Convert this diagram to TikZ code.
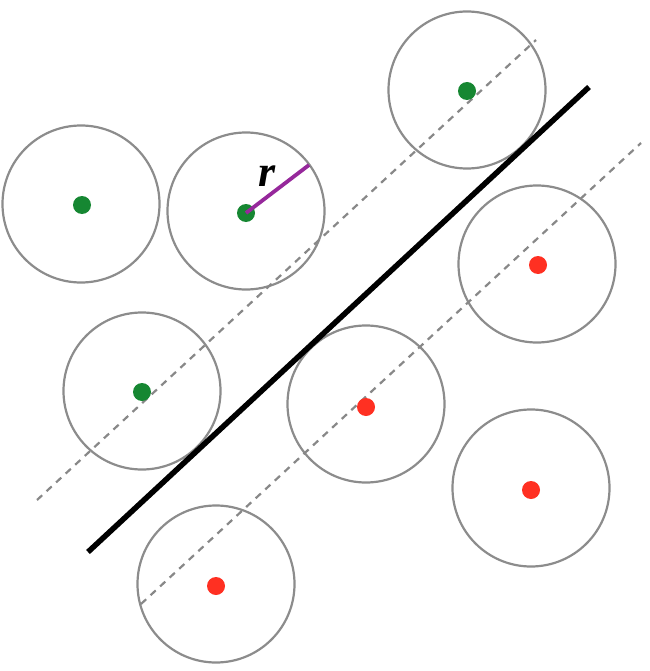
\documentclass[tikz,border=0pt]{standalone}
\usepackage{fontspec}
\setmainfont{Liberation Serif}
\definecolor{ptgreen}{RGB}{22,135,50}
\definecolor{ptred}{RGB}{255,48,34}
\definecolor{ringgray}{RGB}{140,140,140}
\definecolor{dashgray}{RGB}{136,136,136}
\definecolor{radpurple}{RGB}{150,40,155}
\tikzset{
  ring/.style={circle,draw=ringgray,line width=2.2pt,minimum size=157pt,inner sep=0pt},
  gdot/.style={circle,fill=ptgreen,minimum size=18pt,inner sep=0pt},
  rdot/.style={circle,fill=ptred,minimum size=18pt,inner sep=0pt},
  margin/.style={dashgray,line width=2.2pt,dash pattern=on 7pt off 6pt},
  boundary/.style={black,line width=5.5pt},
  radius line/.style={radpurple,line width=3.8pt}
}
\begin{document}
\begin{tikzpicture}[x=1pt,y=-1pt]
\useasboundingbox (0,0) rectangle (649,671);
% rings
\node[ring] (c1) at (81,204) {};
\node[ring] (c2) at (246,211) {};
\node[ring] (c3) at (467,90) {};
\node[ring] (c4) at (142,391) {};
\node[ring] (c5) at (537,264) {};
\node[ring] (c6) at (366,404) {};
\node[ring] (c7) at (531,488) {};
\node[ring] (c8) at (216,584) {};
% lines
\coordinate (u1) at (37,500);
\coordinate (u2) at (536,40);
\coordinate (l1) at (141,604);
\coordinate (l2) at (641,143);
\coordinate (b1) at (88,552);
\coordinate (b2) at (589,87);
\draw[margin] (u1) -- (u2);
\draw[margin] (l1) -- (l2);
\draw[boundary] (b1) -- (b2);
% dots
\node[gdot] (d1) at (82,205) {};
\node[gdot] (d2) at (246,213) {};
\node[gdot] (d3) at (467,91) {};
\node[gdot] (d4) at (142,392) {};
\node[rdot] (d5) at (538,265) {};
\node[rdot] (d6) at (366,407) {};
\node[rdot] (d7) at (531,490) {};
\node[rdot] (d8) at (216,586) {};
% radius
\coordinate (rend) at (309,165);
\draw[radius line] (d2.center) -- (rend);
\node[font=\fontsize{44}{46}\selectfont\bfseries\itshape] (rlab) at (267,176) {r};
\end{tikzpicture}
\end{document}
